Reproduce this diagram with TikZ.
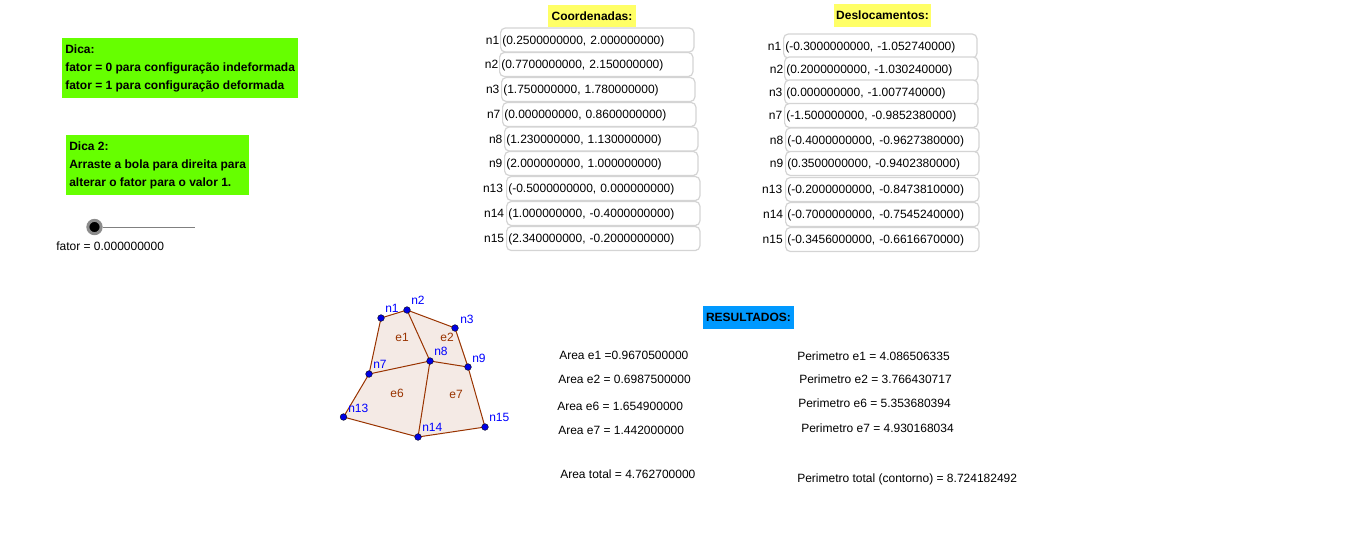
\documentclass[tikz,border=0pt]{standalone}
\usepackage{fontspec}
\setmainfont{Liberation Sans}
\definecolor{dicagreen}{HTML}{66FF00}
\definecolor{titleyellow}{HTML}{FFFF66}
\definecolor{titleblue}{HTML}{0099FF}
\definecolor{edgebrown}{HTML}{993300}
\definecolor{elemfill}{HTML}{F4EAE5}
\definecolor{fieldgray}{HTML}{D4D4D4}
\begin{document}
\begin{tikzpicture}[x=0.75pt,y=-0.75pt,
        every node/.style={font=\fontsize{9}{13.5}\selectfont,text=black,inner sep=0pt},
        fieldbox/.style={draw=fieldgray,line width=0.9pt,rounded corners=3.5pt,anchor=west,fill=white,
            minimum width=145pt,minimum height=18pt,text width=142.5pt,align=left,inner xsep=1.25pt,
            text height=8.2pt,text depth=1.8pt},
        fieldlabel/.style={anchor=east,text height=8.2pt,text depth=1.8pt},
        plain/.style={anchor=west},
        titlebox/.style={font=\fontsize{9}{13.5}\selectfont\bfseries,minimum height=17pt},
        dicabox/.style={fill=dicagreen,anchor=north west,align=left,inner xsep=2.25pt,inner ysep=4.65pt,
            font=\fontsize{9}{13.5}\selectfont\bfseries},
        meshnode/.style={circle,draw=black,fill=blue!90!black,line width=0.3pt,minimum size=5pt},
        meshlabel/.style={anchor=west,text=blue},
        elemlabel/.style={text=edgebrown},
        meshedge/.style={draw=edgebrown,line width=0.75pt}]
    \useasboundingbox (0,0) rectangle (1366,558);
    % dicas
    \node[dicabox] (dica1) at (62,38)
        {Dica:\\fator = 0 para configuração indeformada\\fator = 1 para configuração deformada};
    \node[dicabox] (dica2) at (66,135)
        {Dica 2:\\Arraste a bola para direita para\\alterar o fator para o valor 1.};
    % slider
    \coordinate (sliderend) at (195,227);
    \node[circle,fill=black,draw=black!45,line width=2.25pt,minimum size=10pt] (ball) at (94.5,227) {};
    \draw[black!50,line width=0.6pt] (ball) -- (sliderend);
    \node[plain] (fator) at (56,246) {fator = 0.000000000};
    % titulos
    \node[titlebox,fill=titleyellow,minimum width=66pt] (coord) at (592,16) {Coordenadas:};
    \node[titlebox,fill=titleyellow,minimum width=72.75pt] (desl) at (882.5,15.5) {Deslocamentos:};
    \node[titlebox,fill=titleblue,minimum width=68.25pt] (result) at (748.5,317.5) {RESULTADOS:};
    % coordenadas
    \foreach \name/\x/\y/\lgap/\val in {
        n1/500/40/0.4/{(0.2500000000, 2.000000000)},
        n2/499/64.5/0.4/{(0.7700000000, 2.150000000)},
        n3/501/89.5/1/{(1.750000000, 1.780000000)},
        n7/502/114.5/1/{(0.000000000, 0.8600000000)},
        n8/504/139/1/{(1.230000000, 1.130000000)},
        n9/504/163.5/1/{(2.000000000, 1.000000000)},
        n13/506/188.5/2/{(-0.5000000000, 0.000000000)},
        n14/506/213.5/1.2/{(1.000000000, -0.4000000000)},
        n15/506/238.5/1.2/{(2.340000000, -0.2000000000)}}{
        \node[fieldbox] (c\name) at (\x,\y) {\val};
        \node[fieldlabel] (cl\name) at ([xshift=-\lgap pt]c\name.west) {\name};
    }
    % deslocamentos
    \foreach \name/\x/\y/\lgap/\val in {
        n1/783/46/1.1/{(-0.3000000000, -1.052740000)},
        n2/784/69/0.4/{(0.2000000000, -1.030240000)},
        n3/784/92/1/{(0.000000000, -1.007740000)},
        n7/784/115.5/1.1/{(-1.500000000, -0.9852380000)},
        n8/785/140/1.1/{(-0.4000000000, -0.9627380000)},
        n9/785/163.5/1.1/{(0.3500000000, -0.9402380000)},
        n13/785/189.5/1.9/{(-0.2000000000, -0.8473810000)},
        n14/785/214.5/1.2/{(-0.7000000000, -0.7545240000)},
        n15/785/239.5/1.5/{(-0.3456000000, -0.6616670000)}}{
        \node[fieldbox] (d\name) at (\x,\y) {\val};
        \node[fieldlabel] (dl\name) at ([xshift=-\lgap pt]d\name.west) {\name};
    }
    % malha
    \coordinate (p1) at (381,318);
    \coordinate (p2) at (407,310);
    \coordinate (p3) at (455,328);
    \coordinate (p7) at (369,374);
    \coordinate (p8) at (430,361);
    \coordinate (p9) at (468,367);
    \coordinate (p13) at (343.5,417);
    \coordinate (p14) at (418,437);
    \coordinate (p15) at (485,427);
    \fill[elemfill] (p1) -- (p2) -- (p3) -- (p9) -- (p15) -- (p14) -- (p13) -- (p7) -- cycle;
    \foreach \a/\b in {p1/p2,p2/p3,p3/p9,p9/p15,p15/p14,p14/p13,p13/p7,p7/p1,p2/p8,p7/p8,p8/p9,p8/p14}
        \draw[meshedge] (\a) -- (\b);
    \foreach \n in {1,2,3,7,8,9,13,14,15}
        \node[meshnode] (n\n) at (p\n) {};
    \foreach \n/\x/\y in {1/385/308,2/411/300,3/460/319,7/373/364,8/434/351,9/472/358,13/348/408,14/422/427,15/489/417}
        \node[meshlabel] (ln\n) at (\x,\y) {n\n};
    \foreach \n/\x/\y in {1/402/337,2/447/337,6/397/393,7/456/394}
        \node[elemlabel] (le\n) at (\x,\y) {e\n};
    % resultados
    \node[plain] (ae1) at (559,355) {Area e1 =0.9670500000};
    \node[plain] (ae2) at (558,379) {Area e2 = 0.6987500000};
    \node[plain] (ae6) at (557,406) {Area e6 = 1.654900000};
    \node[plain] (ae7) at (558,430) {Area e7 = 1.442000000};
    \node[plain] (atotal) at (560,474) {Area total = 4.762700000};
    \node[plain] (pe1) at (797,356) {Perimetro e1 = 4.086506335};
    \node[plain] (pe2) at (799,379) {Perimetro e2 = 3.766430717};
    \node[plain] (pe6) at (798,403) {Perimetro e6 = 5.353680394};
    \node[plain] (pe7) at (801,428) {Perimetro e7 = 4.930168034};
    \node[plain] (ptotal) at (797,479) {Perimetro total (contorno) = 8.724182492};
\end{tikzpicture}
\end{document}
